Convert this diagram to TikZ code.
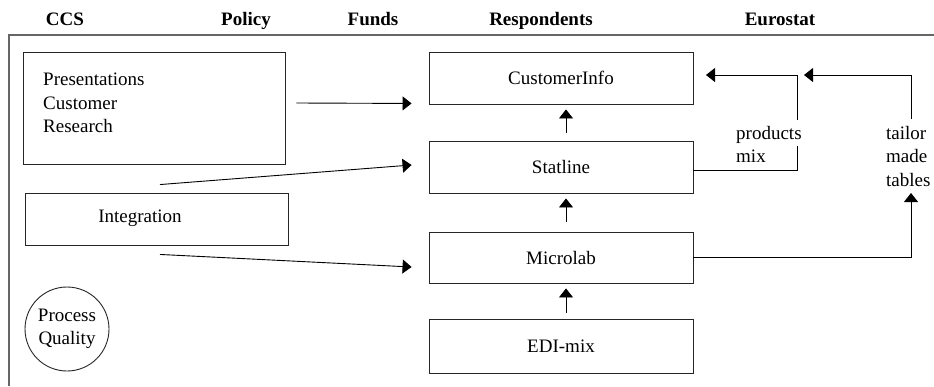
\documentclass[tikz,border=0pt]{standalone}
\usepackage{fontspec}
\setmainfont{Liberation Serif}
\newfontfamily\tnr{Liberation Serif}
\usetikzlibrary{arrows.meta}
\begin{document}
\begin{tikzpicture}[x=1pt,y=-1pt,
  every node/.style={font=\tnr\fontsize{19}{23.5}\selectfont},
  hdr/.style={font=\tnr\fontsize{19}{23.5}\selectfont\bfseries, anchor=base, inner sep=0pt},
  box/.style={draw=black!85, line width=0.9pt, inner sep=0pt},
  lbl/.style={inner sep=0pt, align=left},
  conn/.style={draw=black, line width=0.9pt},
  arr/.style={conn, -{Triangle[length=9pt,width=14pt]}},
  frame/.style={draw=black!60, line width=1.4pt}]
\useasboundingbox (0,0) rectangle (934,386);
% frame
\draw[frame] (9,386) -- (9,35) -- (934,35);
% headers
\node[hdr] (hccs) at (65,25) {CCS};
\node[hdr] (hpol) at (246,25) {Policy};
\node[hdr] (hfun) at (373,25) {Funds};
\node[hdr] (hres) at (541,25) {Respondents};
\node[hdr] (heur) at (780,25) {Eurostat};
% left boxes
\node[box, minimum width=262pt, minimum height=112pt] (pres) at (154,108) {};
\node[lbl, anchor=north west] (prestxt) at (43,73) {Presentations\\Customer\\Research};
\node[box, minimum width=263pt, minimum height=52pt] (integ) at (156.5,219) {};
\node[lbl] (integtxt) at (140,218) {Integration};
\node[draw=black!85, line width=0.9pt, circle, minimum size=84pt, inner sep=0pt, align=center] (pq) at (67,329) {Process\\Quality};
% central boxes
\node[box, minimum width=264pt, minimum height=52pt] (ci) at (561,78) {CustomerInfo};
\node[box, minimum width=264pt, minimum height=52pt] (stat) at (561,167) {Statline};
\node[box, minimum width=264pt, minimum height=51pt] (micro) at (561,257.5) {Microlab};
\node[box, minimum width=264pt, minimum height=54pt] (edi) at (561,346) {EDI-mix};
% vertical arrows
\draw[arr] ([xshift=5pt,yshift=8pt]stat.north) -- ([xshift=5pt,yshift=-5pt]ci.south);
\draw[arr] ([xshift=5pt,yshift=10pt]micro.north) -- ([xshift=5pt,yshift=-5pt]stat.south);
\draw[arr] ([xshift=5pt,yshift=6pt]edi.north) -- ([xshift=5pt,yshift=-5pt]micro.south);
% left arrows
\draw[arr] ([xshift=11pt,yshift=5pt]pres.east) -- ([xshift=-17pt,yshift=1pt]ci.south west);
\draw[arr] ([xshift=3.5pt,yshift=8pt]integ.north) -- ([xshift=-17pt,yshift=2pt]stat.west);
\draw[arr] ([xshift=3.5pt,yshift=-9pt]integ.south) -- ([xshift=-17pt,yshift=-9.5pt]micro.west);
% right labels
\node[lbl, anchor=north west] (pm) at (736,126) {products\\mix};
\node[lbl, anchor=north west] (tmt) at (886,126) {tailor\\made\\tables};
\coordinate (pmb) at (797,170);
\coordinate (pmlow) at (797,146);
\coordinate (pmhigh) at (797,120);
\coordinate (pmtop) at (797,75);
\coordinate (citip) at (706,75);
\coordinate (tmx) at (911,257.5);
\coordinate (tmtip) at (911,193);
\coordinate (tmhigh) at (911,119);
\coordinate (tmtop) at (911,75);
\coordinate (tmtip2) at (804,75);
\draw[conn] ([yshift=-3pt]stat.east) -- (pmb) -- (pmlow);
\draw[arr] (pmhigh) -- (pmtop) -- (citip);
\draw[arr] (micro.east) -- (tmx) -- (tmtip);
\draw[arr] (tmhigh) -- (tmtop) -- (tmtip2);
\end{tikzpicture}
\end{document}
